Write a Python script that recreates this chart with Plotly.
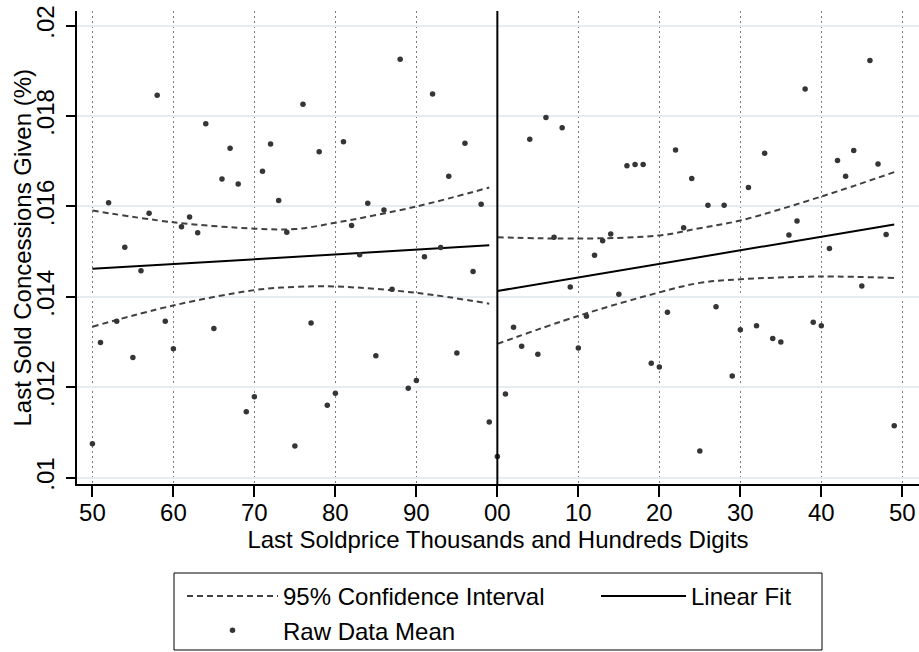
import plotly.graph_objects as go

# ---------------- data ----------------
left_digits = list(range(50, 100))
left_values = [0.01075, 0.01299, 0.01608, 0.01346, 0.01510, 0.01266, 0.01458, 0.01585, 0.01846, 0.01346,
               0.01285, 0.01555, 0.01577, 0.01542, 0.01783, 0.01330, 0.01661, 0.01729, 0.01650, 0.01146,
               0.01179, 0.01678, 0.01738, 0.01613, 0.01543, 0.01070, 0.01826, 0.01342, 0.01721, 0.01160,
               0.01187, 0.01743, 0.01558, 0.01493, 0.01607, 0.01270, 0.01592, 0.01417, 0.01926, 0.01198,
               0.01215, 0.01489, 0.01849, 0.01509, 0.01667, 0.01276, 0.01740, 0.01456, 0.01605, 0.01123]
right_digits = list(range(0, 50))
right_values = [0.01047, 0.01185, 0.01333, 0.01291, 0.01749, 0.01273, 0.01797, 0.01532, 0.01774, 0.01422,
                0.01287, 0.01357, 0.01492, 0.01524, 0.01539, 0.01406, 0.01690, 0.01693, 0.01693, 0.01253,
                0.01245, 0.01366, 0.01725, 0.01553, 0.01662, 0.01059, 0.01603, 0.01378, 0.01603, 0.01225,
                0.01327, 0.01642, 0.01336, 0.01718, 0.01308, 0.01300, 0.01537, 0.01568, 0.01860, 0.01344,
                0.01336, 0.01507, 0.01702, 0.01667, 0.01724, 0.01424, 0.01923, 0.01694, 0.01538, 0.01115]

# linear fits (endpoints), positions on the 0..100 axis
fit_left_pos = [0, 49]
fit_left_val = [0.01462, 0.01514]
fit_right_pos = [50, 99]
fit_right_val = [0.01413, 0.01560]

# 95% confidence interval curves
ci_left_pos = [0, 10, 20, 25, 30, 40, 49]
ci_left_upper = [0.01591, 0.01565, 0.01551, 0.01550, 0.01564, 0.01600, 0.01642]
ci_left_lower = [0.01334, 0.01381, 0.01415, 0.01422, 0.01423, 0.01409, 0.01385]
ci_right_pos = [50, 60, 70, 75, 80, 90, 99]
ci_right_upper = [0.01532, 0.01529, 0.01536, 0.01552, 0.01569, 0.01622, 0.01676]
ci_right_lower = [0.01296, 0.01358, 0.01410, 0.01431, 0.01439, 0.01445, 0.01442]

x_tick_pos = [0, 10, 20, 30, 40, 50, 60, 70, 80, 90, 100]
x_tick_text = ["50", "60", "70", "80", "90", "00", "10", "20", "30", "40", "50"]
y_tick_vals = [0.010, 0.012, 0.014, 0.016, 0.018, 0.020]
y_tick_text = [".01", ".012", ".014", ".016", ".018", ".02"]

cutoff_digit = 0  # the "00" boundary
y_title = "Last Sold Concessions Given (%)"
x_title = "Last Soldprice Thousands and Hundreds Digits"


def pos(d):
    return d - 50 if d >= 50 else d + 50


FONT = "Liberation Sans, Arial, Helvetica, sans-serif"
DOT_COLOR = "#353535"
CI_COLOR = "#404040"

fig = go.Figure()

dash = "6px,4px"
# CI curves
fig.add_trace(go.Scatter(x=ci_left_pos, y=ci_left_upper, mode="lines", line=dict(color=CI_COLOR, width=2, dash=dash, shape="spline"),
                         name="95% Confidence Interval", legendgroup="ci", showlegend=True, legend="legend"))
fig.add_trace(go.Scatter(x=ci_left_pos, y=ci_left_lower, mode="lines", line=dict(color=CI_COLOR, width=2, dash=dash, shape="spline"),
                         legendgroup="ci", showlegend=False))
fig.add_trace(go.Scatter(x=ci_right_pos, y=ci_right_upper, mode="lines", line=dict(color=CI_COLOR, width=2, dash=dash, shape="spline"),
                         legendgroup="ci", showlegend=False))
fig.add_trace(go.Scatter(x=ci_right_pos, y=ci_right_lower, mode="lines", line=dict(color=CI_COLOR, width=2, dash=dash, shape="spline"),
                         legendgroup="ci", showlegend=False))

# Linear fits
fig.add_trace(go.Scatter(x=fit_left_pos, y=fit_left_val, mode="lines", line=dict(color="black", width=2),
                         name="Linear Fit", legendgroup="fit", showlegend=True, legend="legend2"))
fig.add_trace(go.Scatter(x=fit_right_pos, y=fit_right_val, mode="lines", line=dict(color="black", width=2),
                         legendgroup="fit", showlegend=False, legend="legend2"))

# Raw points
fig.add_trace(go.Scatter(x=[pos(d) for d in left_digits] + [pos(d) for d in right_digits],
                         y=left_values + right_values, mode="markers",
                         marker=dict(color=DOT_COLOR, size=5.5),
                         name="Raw Data Mean", legendgroup="raw", showlegend=True, legend="legend"))

fig.add_vline(x=pos(cutoff_digit), line=dict(color="black", width=2), layer="above")

W, H = 919, 652
ml, mr, mt, mb = 77, 0, 11, 168
ph = H - mt - mb
pw = W - ml - mr


def px_y(y):
    return (H - mb - y) / ph


def px_x(x):
    return (x - ml) / pw


fig.add_shape(type="rect", xref="paper", yref="paper",
              x0=px_x(174), x1=px_x(822), y0=px_y(650), y1=px_y(573),
              line=dict(color="black", width=1), fillcolor="rgba(0,0,0,0)")

# y-axis title as rotated text placed like the reference
fig.add_annotation(text=y_title, xref="paper", yref="paper", x=px_x(22), y=0.5,
                   xanchor="center", yanchor="middle", textangle=-90, showarrow=False,
                   font=dict(family=FONT, size=24, color="black"))

fig.update_layout(
    width=W, height=H,
    margin=dict(l=ml, r=mr, t=mt, b=mb, autoexpand=False),
    paper_bgcolor="white", plot_bgcolor="white",
    font=dict(family=FONT, size=24, color="black"),
    legend=dict(x=px_x(182), y=px_y(574), xanchor="left", yanchor="top",
                orientation="v", bgcolor="rgba(0,0,0,0)", borderwidth=0,
                font=dict(size=24), itemwidth=91, tracegroupgap=0),
    legend2=dict(x=px_x(596), y=px_y(574), xanchor="left", yanchor="top",
                 orientation="v", bgcolor="rgba(0,0,0,0)", borderwidth=0,
                 font=dict(size=24), itemwidth=85),
    xaxis=dict(range=[-1.90, 102.06], tickmode="array", tickvals=x_tick_pos, ticktext=x_tick_text,
               showline=True, linecolor="black", linewidth=1.5, ticks="outside", ticklen=11,
               tickwidth=1.5, tickcolor="black", showgrid=True, gridcolor="#7a7a7a", gridwidth=1,
               griddash="1.5px,3.5px", zeroline=False, ticklabelstandoff=-5,
               title=dict(text=x_title, standoff=6, font=dict(size=24)),
               tickfont=dict(size=24)),
    yaxis=dict(range=[0.00986, 0.020325], tickmode="array", tickvals=y_tick_vals, ticktext=y_tick_text,
               tickangle=-90, showline=True, linecolor="black", linewidth=1.5, ticks="outside",
               ticklen=9, tickwidth=1.5, tickcolor="black", showgrid=True, gridcolor="#e6edf0",
               gridwidth=2, zeroline=False, ticklabelstandoff=3,
               tickfont=dict(size=24)),
    showlegend=True,
)

fig.write_html("out.html")
